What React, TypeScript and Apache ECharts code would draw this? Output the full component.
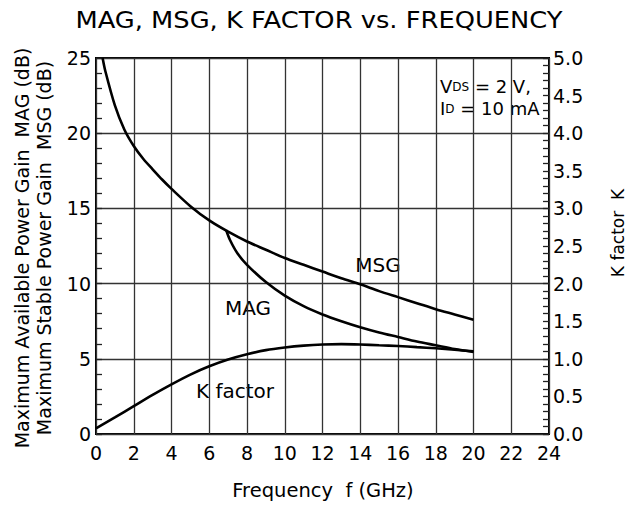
import React, { useEffect, useRef } from "react";
import * as echarts from "echarts";

const xTicks = [0, 2, 4, 6, 8, 10, 12, 14, 16, 18, 20, 22, 24];
const msgData: [number, number][] = [
  [0.35, 25], [0.5, 24.1], [1, 21.85], [1.5, 20.25], [2, 19.15], [2.5, 18.3], [3, 17.6],
  [3.5, 16.92], [4, 16.3], [5, 15.15], [6, 14.2], [7, 13.45], [8, 12.8], [9, 12.25],
  [10, 11.7], [11, 11.25], [12, 10.8], [13, 10.35], [14, 9.95], [15, 9.5], [16, 9.1],
  [17, 8.7], [18, 8.3], [19, 7.95], [20, 7.6],
];
const magData: [number, number][] = [
  [6.9, 13.55], [7.1, 12.9], [7.5, 12.0], [8, 11.25], [9, 10.1], [10, 9.2], [11, 8.5],
  [12, 7.95], [13, 7.5], [14, 7.1], [15, 6.75], [16, 6.45], [17, 6.15], [18, 5.9],
  [19, 5.65], [20, 5.45],
];
const kData: [number, number][] = [
  [0, 0.075], [1, 0.22], [2, 0.37], [3, 0.52], [4, 0.66], [5, 0.79], [6, 0.9],
  [7, 0.99], [8, 1.06], [9, 1.115], [10, 1.15], [11, 1.175], [12, 1.19], [13, 1.195],
  [14, 1.19], [15, 1.18], [16, 1.17], [17, 1.155], [18, 1.14], [19, 1.12], [20, 1.1],
];

const FONT = "DejaVu Sans";

export default function App() {
  const ref = useRef<HTMLDivElement>(null);
  useEffect(() => {
    const chart = echarts.init(ref.current!, null, { renderer: "svg" });
    const gridL = 96, gridT = 58, gridR = 79, gridB = 79;
    const tickStyle = { color: "#222", width: 1.3 };
    const lineSeries = (name: string, data: [number, number][], yAxisIndex: number) => ({
      type: "line", name, data, smooth: 0.3, showSymbol: false, yAxisIndex,
      lineStyle: { color: "#000", width: 2.6 },
    });
    chart.setOption({
      animation: false,
      backgroundColor: "#fff",
      textStyle: { fontFamily: FONT, color: "#000" },
      grid: {
        left: gridL, top: gridT, right: gridR, bottom: gridB,
        show: true, borderColor: "#000", borderWidth: 2, containLabel: false,
      },
      xAxis: {
        type: "value", min: 0, max: 24, interval: 2,
        axisLine: { show: false },
        axisTick: { show: false },
        axisLabel: { fontSize: 19, color: "#000", margin: 9, fontFamily: FONT,
          formatter: (v: number) => (xTicks.includes(v) ? String(v) : "") },
        splitLine: { show: true, lineStyle: { color: "#333", width: 1.3 } },
      },
      yAxis: [
        {
          type: "value", min: 0, max: 25, interval: 5, position: "left",
          axisLine: { show: false },
          axisTick: { show: true, inside: true, length: 6, lineStyle: tickStyle },
          minorTick: { show: true, splitNumber: 5, length: 6, lineStyle: tickStyle },
          axisLabel: { fontSize: 19, color: "#000", margin: 5, fontFamily: FONT },
          splitLine: { show: true, lineStyle: { color: "#333", width: 1.3 } },
        },
        {
          type: "value", min: 0, max: 5, interval: 0.5, position: "right",
          axisLine: { show: false },
          axisTick: { show: true, inside: true, length: 6, lineStyle: tickStyle },
          minorTick: { show: true, splitNumber: 5, length: 6, lineStyle: tickStyle },
          axisLabel: { fontSize: 19, color: "#000", margin: 4, fontFamily: FONT,
            formatter: (v: number) => v.toFixed(1) },
          splitLine: { show: false },
        },
      ],
      series: [
        lineSeries("MSG", msgData, 0),
        lineSeries("MAG", magData, 0),
        lineSeries("K factor", kData, 1),
      ],
      graphic: [
        { type: "text", x: 319, y: 20, scaleX: 1.12, style: { text: "MAG, MSG, K FACTOR vs. FREQUENCY", fontFamily: FONT,
          fontSize: 23, fill: "#000", align: "center", verticalAlign: "middle" } },
        { type: "text", x: 33, y: 248, rotation: Math.PI / 2, style: {
          text: "Maximum Available Power Gain  MAG (dB)\nMaximum Stable Power Gain  MSG (dB)",
          fontFamily: FONT, fontSize: 19, lineHeight: 22, fill: "#000", align: "center", verticalAlign: "middle" } },
        { type: "text", x: 618, y: 233, rotation: Math.PI / 2, style: {
          text: "K factor  K", fontFamily: FONT, fontSize: 17, fill: "#000", align: "center", verticalAlign: "middle" } },
        { type: "text", x: 323, y: 490, style: {
          text: "Frequency  f (GHz)", fontFamily: FONT, fontSize: 19.5, fill: "#000", align: "center", verticalAlign: "middle" } },
        { type: "text", x: 378, y: 265, style: { text: "MSG", fontFamily: FONT, fontSize: 20, fill: "#000", align: "center", verticalAlign: "middle" } },
        { type: "text", x: 248, y: 308, style: { text: "MAG", fontFamily: FONT, fontSize: 20, fill: "#000", align: "center", verticalAlign: "middle" } },
        { type: "text", x: 235, y: 391, style: { text: "K factor", fontFamily: FONT, fontSize: 20, fill: "#000", align: "center", verticalAlign: "middle" } },
        { type: "text", x: 440, y: 86, style: {
          text: "{a|V}{b|DS}{a| = 2 V,}", fontFamily: FONT, fill: "#000", align: "left", verticalAlign: "middle",
          rich: { a: { fontSize: 18, fontFamily: FONT, fill: "#000" }, b: { fontSize: 12, fontFamily: FONT, verticalAlign: "bottom", padding: [0, 0, 2, 0] } } } },
        { type: "text", x: 440, y: 108, style: {
          text: "{a|I}{b|D}{a| = 10 mA}", fontFamily: FONT, fill: "#000", align: "left", verticalAlign: "middle",
          rich: { a: { fontSize: 18, fontFamily: FONT }, b: { fontSize: 12, fontFamily: FONT, verticalAlign: "bottom", padding: [0, 0, 2, 0] } } } },
      ],
    });
    return () => chart.dispose();
  }, []);
  return <div ref={ref} style={{ width: 628, height: 513, position: "absolute", left: 0, top: 0 }} />;
}
